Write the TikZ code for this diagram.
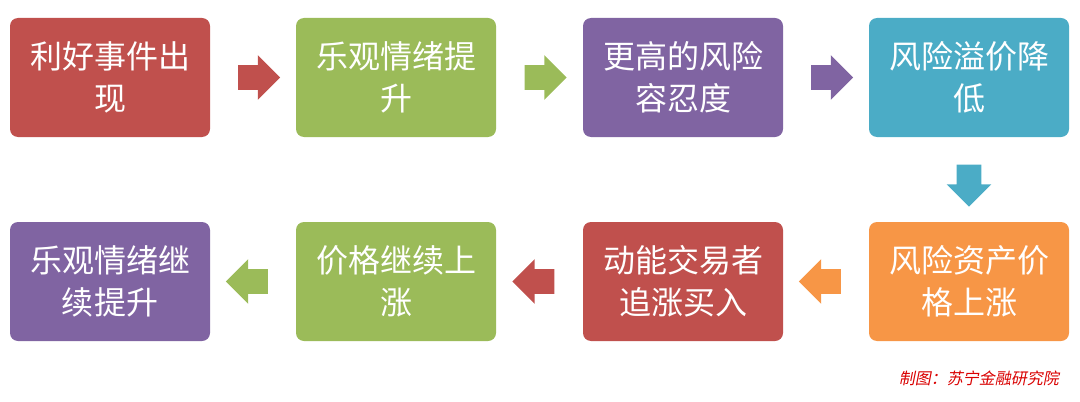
\documentclass[tikz,border=0pt]{standalone}
\usepackage{fontspec}
\setmainfont{Noto Sans CJK SC}
\newfontfamily\capfont[FakeSlant=0.2]{Noto Sans CJK SC}
\usetikzlibrary{positioning,shapes.arrows,calc}
\definecolor{cred}{HTML}{C0504D}
\definecolor{cgreen}{HTML}{9BBB59}
\definecolor{cpurple}{HTML}{8064A2}
\definecolor{ccyan}{HTML}{4BACC6}
\definecolor{corange}{HTML}{F79646}
\tikzset{
  stagebox/.style={rectangle,rounded corners=4pt,minimum width=100pt,minimum height=59.5pt,
    text width=96pt,align=center,text=white,font=\fontsize{16}{21}\selectfont,inner sep=0pt},
  flowarrow/.style={single arrow,draw=none,minimum height=21pt,minimum width=22pt,
    single arrow head extend=5pt,inner xsep=0pt,inner ysep=6pt}
}
\begin{document}
\begin{tikzpicture}[x=0.5pt,y=-0.5pt]
 \useasboundingbox (0,0) rectangle (1080,401);
 \node[stagebox,fill=cred,name=good] at (110,77.5) {利好事件出\\现};
 \node[stagebox,fill=cgreen,name=mood] at (396,77.5) {乐观情绪提\\升};
 \node[stagebox,fill=cpurple,name=risk] at (683,77.5) {更高的风险\\容忍度};
 \node[stagebox,fill=ccyan,name=premium] at (969,77.5) {风险溢价降\\低};
 \node[stagebox,fill=corange,name=asset] at (969,281.5) {风险资产价\\格上涨};
 \node[stagebox,fill=cred,name=momentum] at (683,281.5) {动能交易者\\追涨买入};
 \node[stagebox,fill=cgreen,name=price] at (396,281.5) {价格继续上\\涨};
 \node[stagebox,fill=cpurple,name=again] at (110,281.5) {乐观情绪继\\续提升};
 % arrows between stages
 \node[flowarrow,fill=cred] at ($(good.east)!0.5!(mood.west)$) {};
 \node[flowarrow,fill=cgreen] at ($(mood.east)!0.5!(risk.west)$) {};
 \node[flowarrow,fill=cpurple] at ($(risk.east)!0.5!(premium.west)$) {};
 \node[flowarrow,fill=ccyan,rotate=-90] at ($(premium.south)!0.5!(asset.north)$) {};
 \node[flowarrow,fill=corange,rotate=180] at ($(asset.west)!0.5!(momentum.east)$) {};
 \node[flowarrow,fill=cred,rotate=180] at ($(momentum.west)!0.5!(price.east)$) {};
 \node[flowarrow,fill=cgreen,rotate=180] at ($(price.west)!0.5!(again.east)$) {};
 \node[anchor=east,text=red!85!black,font=\capfont\fontsize{8}{10}\selectfont,name=credit] at (1066,378) {制图：苏宁金融研究院};
\end{tikzpicture}
\end{document}
